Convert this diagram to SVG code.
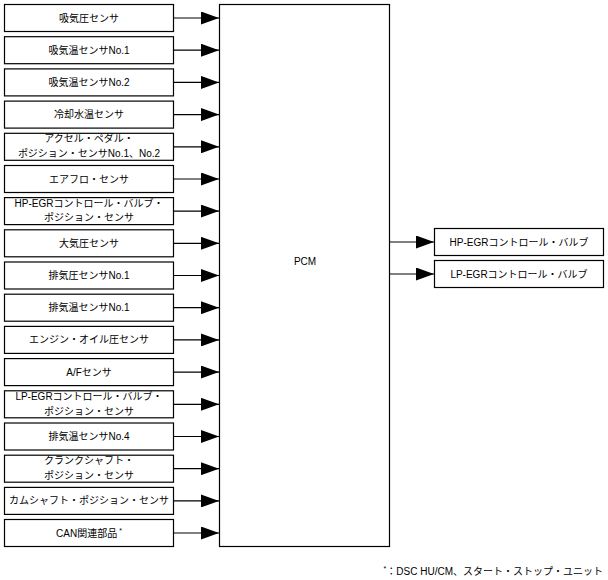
<svg xmlns="http://www.w3.org/2000/svg" width="608" height="580" viewBox="0 0 608 580">
<style>
.box{fill:#fff;stroke:#000;stroke-width:1.2}
.t{font-family:"Liberation Sans","Noto Sans CJK JP",sans-serif;font-size:10px;fill:#000;text-anchor:middle}
.c{stroke:#000;stroke-width:1.2;fill:none;marker-end:url(#ah)}
</style>
<defs>
<marker id="ah" markerUnits="userSpaceOnUse" markerWidth="18" markerHeight="13" refX="18" refY="6.5" orient="auto">
<path d="M0,0 L18,6.5 L0,13 z" fill="#000"/>
</marker>
</defs>
<rect width="608" height="580" fill="#fff"/>
<g id="n1"><rect class="box" x="4.5" y="4.5" width="169" height="27"/><text class="t" x="89" y="21.5">吸気圧センサ</text></g>
<g id="n2"><rect class="box" x="4.5" y="36.7" width="169" height="27"/><text class="t" x="89" y="53.7">吸気温センサNo.1</text></g>
<g id="n3"><rect class="box" x="4.5" y="68.9" width="169" height="27"/><text class="t" x="89" y="85.9">吸気温センサNo.2</text></g>
<g id="n4"><rect class="box" x="4.5" y="101.1" width="169" height="27"/><text class="t" x="89" y="118.1">冷却水温センサ</text></g>
<g id="n5"><rect class="box" x="4.5" y="133.3" width="169" height="27"/><text class="t" x="89" y="142.3">アクセル・ペダル・</text><text class="t" x="89" y="157">ポジション・センサNo.1、No.2</text></g>
<g id="n6"><rect class="box" x="4.5" y="165.5" width="169" height="27"/><text class="t" x="89" y="182.5">エアフロ・センサ</text></g>
<g id="n7"><rect class="box" x="4.5" y="197.6" width="169" height="27"/><text class="t" x="89" y="206.6">HP-EGRコントロール・バルブ・</text><text class="t" x="89" y="221.3">ポジション・センサ</text></g>
<g id="n8"><rect class="box" x="4.5" y="229.8" width="169" height="27"/><text class="t" x="89" y="246.8">大気圧センサ</text></g>
<g id="n9"><rect class="box" x="4.5" y="262" width="169" height="27"/><text class="t" x="89" y="279">排気圧センサNo.1</text></g>
<g id="n10"><rect class="box" x="4.5" y="294.2" width="169" height="27"/><text class="t" x="89" y="311.2">排気温センサNo.1</text></g>
<g id="n11"><rect class="box" x="4.5" y="326.4" width="169" height="27"/><text class="t" x="89" y="343.4">エンジン・オイル圧センサ</text></g>
<g id="n12"><rect class="box" x="4.5" y="358.6" width="169" height="27"/><text class="t" x="89" y="375.6">A/Fセンサ</text></g>
<g id="n13"><rect class="box" x="4.5" y="390.8" width="169" height="27"/><text class="t" x="89" y="399.8">LP-EGRコントロール・バルブ・</text><text class="t" x="89" y="414.5">ポジション・センサ</text></g>
<g id="n14"><rect class="box" x="4.5" y="423" width="169" height="27"/><text class="t" x="89" y="440">排気温センサNo.4</text></g>
<g id="n15"><rect class="box" x="4.5" y="455.2" width="169" height="27"/><text class="t" x="89" y="464.2">クランクシャフト・</text><text class="t" x="89" y="478.9">ポジション・センサ</text></g>
<g id="n16"><rect class="box" x="4.5" y="487.4" width="169" height="27"/><text class="t" x="89" y="504.4">カムシャフト・ポジション・センサ</text></g>
<g id="n17"><rect class="box" x="4.5" y="519.5" width="169" height="27"/><text class="t" x="89" y="536.5">CAN関連部品<tspan font-size="7" dy="-4"> *</tspan></text></g>
<g id="pcm"><rect class="box" x="219.5" y="4.5" width="170" height="542"/><text class="t" x="305" y="264.5">PCM</text></g>
<g id="o1"><rect class="box" x="434.5" y="228.5" width="169" height="27"/><text class="t" x="519" y="245.5">HP-EGRコントロール・バルブ</text></g>
<g id="o2"><rect class="box" x="434.5" y="260.5" width="169" height="27"/><text class="t" x="519" y="277.5">LP-EGRコントロール・バルブ</text></g>
<g id="connectors">
<line class="c" x1="173.5" y1="18" x2="219" y2="18"/>
<line class="c" x1="173.5" y1="50.2" x2="219" y2="50.2"/>
<line class="c" x1="173.5" y1="82.4" x2="219" y2="82.4"/>
<line class="c" x1="173.5" y1="114.6" x2="219" y2="114.6"/>
<line class="c" x1="173.5" y1="146.8" x2="219" y2="146.8"/>
<line class="c" x1="173.5" y1="179" x2="219" y2="179"/>
<line class="c" x1="173.5" y1="211.1" x2="219" y2="211.1"/>
<line class="c" x1="173.5" y1="243.3" x2="219" y2="243.3"/>
<line class="c" x1="173.5" y1="275.5" x2="219" y2="275.5"/>
<line class="c" x1="173.5" y1="307.7" x2="219" y2="307.7"/>
<line class="c" x1="173.5" y1="339.9" x2="219" y2="339.9"/>
<line class="c" x1="173.5" y1="372.1" x2="219" y2="372.1"/>
<line class="c" x1="173.5" y1="404.3" x2="219" y2="404.3"/>
<line class="c" x1="173.5" y1="436.5" x2="219" y2="436.5"/>
<line class="c" x1="173.5" y1="468.7" x2="219" y2="468.7"/>
<line class="c" x1="173.5" y1="500.9" x2="219" y2="500.9"/>
<line class="c" x1="173.5" y1="533" x2="219" y2="533"/>
<line class="c" x1="389.5" y1="242" x2="434" y2="242"/>
<line class="c" x1="389.5" y1="274" x2="434" y2="274"/>
</g>
<text class="t" x="603" y="575" style="text-anchor:end"><tspan font-size="7" dy="-4">*</tspan><tspan dy="4">：DSC HU/CM、スタート・ストップ・ユニット</tspan></text>
</svg>
